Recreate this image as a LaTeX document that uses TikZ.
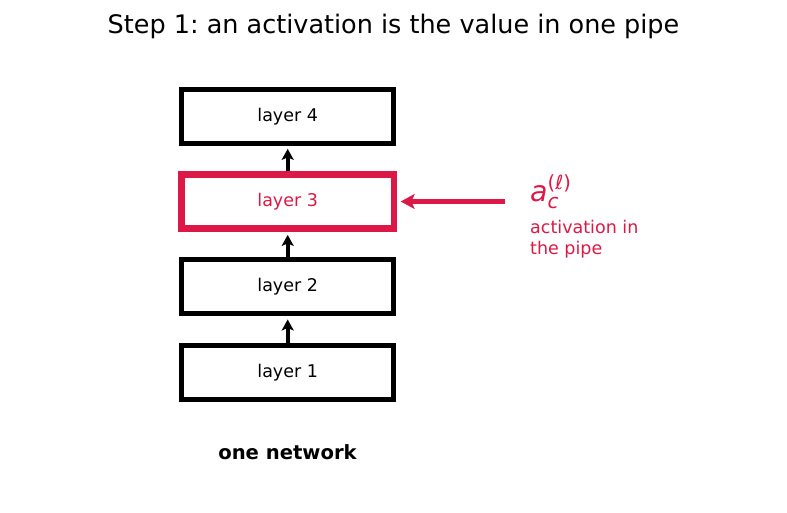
\documentclass[tikz,border=0pt]{standalone}
\usepackage{fontspec}
\setmainfont{DejaVu Sans}
\usetikzlibrary{arrows.meta}
\definecolor{crim}{RGB}{220,25,70}
\tikzset{
  layerbox/.style={draw=black, line width=5pt, minimum width=212.5pt, minimum height=54.3pt, inner sep=0pt, font=\fontsize{17.5}{20}\selectfont},
  hotbox/.style={layerbox, draw=crim, line width=6.5pt, text=crim},
  uparrow/.style={draw=black, line width=3.6pt, -{Stealth[length=11pt, width=12pt, inset=2.5pt]}, shorten >=3pt},
  redarrow/.style={draw=crim, line width=4.6pt, -{Stealth[length=14pt, width=15pt, inset=3.5pt]}, shorten >=3.5pt}
}
\begin{document}
\frenchspacing
\begin{tikzpicture}[x=1pt,y=-1pt]
\useasboundingbox (0,0) rectangle (787,512);
\node[font=\fontsize{25.5}{30}\selectfont] (title) at (393.5,26) {Step 1: an activation is the value in one pipe};
\node[layerbox] (L4) at (287.7,116.2) {layer 4};
\node[hotbox]   (L3) at (287.7,201.5) {layer 3};
\node[layerbox] (L2) at (287.7,286.8) {layer 2};
\node[layerbox] (L1) at (287.7,372.5) {layer 1};
\draw[uparrow] (L1.north) -- (L2.south);
\draw[uparrow] (L2.north) -- (L3.south);
\draw[uparrow] (L3.north) -- (L4.south);
\coordinate (src) at (505,201.5);
\draw[redarrow] (src) -- (L3.east);
\node[anchor=base west, inner sep=0pt, text=crim, font=\fontsize{28.5}{30}\selectfont] (act) at (530,201.5)
  {\itshape a\rlap{\raisebox{-6.5pt}{\fontsize{20}{22}\selectfont c}}\raisebox{12pt}{\fontsize{19.5}{22}\selectfont\upshape(\itshape ℓ\upshape)}};
\node[anchor=base west, inner sep=0pt, text=crim, font=\fontsize{17.5}{20.5}\selectfont, align=left] (desc) at (530,254)
  {activation in\\the pipe};
\node[font=\bfseries\fontsize{19.6}{22}\selectfont] (net) at (287.5,452) {one network};
\end{tikzpicture}
\end{document}
